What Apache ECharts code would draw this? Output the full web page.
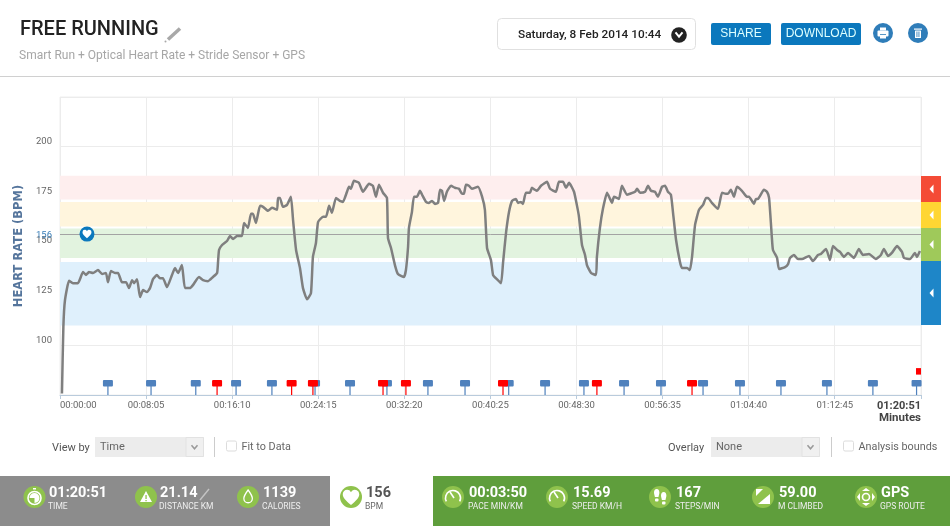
<!DOCTYPE html>
<html><head><meta charset="utf-8">
<style>html,body{margin:0;padding:0;background:#fff}#c{width:950px;height:527px}</style>
<script src="https://cdn.jsdelivr.net/npm/echarts@6/dist/echarts.min.js"></script>
</head><body><div id="c"></div>
<script>
const hrSeconds=[11,19,28,51,73,101,130,146,163,186,214,237,259,270,287,310,327,349,372,389,406,417,434,451,468,490,507,524,546,563,580,603,631,648,665,687,704,732,749,783,806,834,862,885,890,896,913,941,958,975,997,1025,1037,1059,1076,1087,1104,1127,1144,1172,1194,1223,1228,1239,1256,1279,1301,1313,1330,1352,1369,1392,1414,1425,1442,1454,1482,1499,1516,1532,1555,1577,1594,1617,1628,1639,1656,1684,1707,1741,1763,1780,1797,1820,1842,1848,1865,1887,1904,1938,1949,1961,1966,1983,1994,2011,2028,2040,2062,2079,2096,2113,2130,2141,2152,2164,2180,2203,2225,2248,2265,2276,2287,2304,2321,2355,2378,2394,2406,2428,2440,2462,2485,2496,2513,2530,2547,2569,2580,2597,2608,2625,2648,2659,2676,2687,2710,2744,2761,2794,2811,2834,2851,2868,2896,2913,2924,2941,2958,2969,2992,3020,3025,3042,3059,3082,3099,3110,3121,3149,3166,3194,3211,3240,3251,3268,3296,3313,3330,3352,3369,3392,3409,3425,3442,3454,3471,3493,3504,3533,3549,3561,3578,3600,3623,3640,3651,3673,3707,3730,3752,3764,3780,3797,3814,3842,3870,3882,3910,3921,3932,3966,3983,3995,4011,4017,4040,4051,4085,4102,4113,4135,4158,4180,4220,4242,4271,4287,4316,4338,4355,4378,4395,4417,4440,4473,4501,4524,4558,4597,4625,4642,4665,4687,4716,4744,4755,4789,4817,4828,4845];
const hrBpm=[75.8,109.3,122.7,132.5,131.3,131.3,136.9,135.4,136.9,136.4,137.9,135.9,136.4,131.8,137.4,136.4,136.4,131.8,131.8,128.8,132.8,131.3,133.3,124.3,127.8,126.8,128.8,133.3,135.4,133.8,133.8,129.3,135.4,138.9,136.4,140.4,128.8,128.8,130.3,134.4,132.8,132.3,134.4,136.4,141.4,148,150.5,152.5,155,153.5,155,155,161.6,159.1,166.2,166.2,161.6,170.2,169.7,167.7,169.2,168.2,174.2,174.2,169.7,170.7,174.8,163.1,148,138.9,128.8,123.2,126.3,144.5,151.5,162.1,164.7,164.7,170.2,166.7,174.2,172.7,172.2,177.3,179.8,178.8,182.8,181.8,177.3,181.3,180.3,174.8,180.8,176.8,174.2,154,149,140.4,135.9,134.4,137.9,149.5,159.1,167.2,174.8,174.8,177.8,175.8,172.2,171.7,172.7,171.2,171.7,178.3,177.8,172.7,177.3,180.3,179.3,178.8,176.3,176.3,180.8,180.3,178.8,179.8,174.8,168.2,149,142.9,135.4,133.3,131.3,141.4,156.6,167.2,172.7,173.7,171.7,172.2,171.2,176.8,176.8,179.3,178.3,177.8,180.3,182.3,178.8,177.3,182.3,182.3,179.3,181.8,177.3,170.2,164.7,150.5,145.5,140.4,136.4,135.4,144.5,159.1,168.7,176.8,173.7,171.7,174.8,173.7,180.3,175.8,176.3,177.3,178.8,176.8,177.3,180.3,177.8,177.3,174.8,179.8,180.3,177.3,175.8,166.7,153,141.9,138.9,138.9,137.9,144.5,160.6,168.2,170.7,174.2,174.2,171.7,168.7,176.8,176.3,176.3,178.3,174.8,179.8,177.8,174.8,174.8,171.2,173.7,173.7,178.3,177.3,174.2,154,148,144,138.4,139.4,140.9,144,145.5,143.4,143.4,145,142.4,145.5,146,148.5,142.9,150,148,147,144.5,146.5,144,148.5,145.5,146,143.4,145.5,148.5,145,146.5,150,147,144,143.4,146.5,144.5,147.5];
const zoneRed=[173.4,185.4], zoneYellow=[159.8,172.2], zoneGreen=[144,158.8], zoneBlue=[110,142];
const currentBpm=156, currentMarkerSec=152;
const blueFlags=[270,513,765,992,1194,1437,1634,1842,2073,2282,2528,2733,2952,3178,3386,3623,3831,4062,4321,4580,4826];
const redFlags=[885,1305,1425,1820,1949,2496,3025,3561];
const redEndMarker=[[4837,86.9]];
const xTickSeconds=[0,485,970,1455,1940,2425,2910,3395,3880,4365,4851];
const xTickLabels=['00:00:00','00:08:05','00:16:10','00:24:15','00:32:20','00:40:25','00:48:30','00:56:35','01:04:40','01:12:45','01:20:51'];
const statsGrey=[['01:20:51','TIME'],['21.14','DISTANCE KM'],['1139','CALORIES']];
const statBpm=['156','BPM'];
const statsGreen=[['00:03:50','PACE MIN/KM'],['15.69','SPEED KM/H'],['167','STEPS/MIN'],['59.00','M CLIMBED'],['GPS','GPS ROUTE']];

const F='Roboto, sans-serif';
const g=[];
const T=(text,x,y,font,fill,align)=>g.push({type:'text',silent:true,z:20,style:{text,x,y,font,fill,textAlign:align||'left',textVerticalAlign:'middle'}});
const R=(x,y,w,h,fill,r,stroke,zz)=>g.push({type:'rect',silent:true,z:zz||10,shape:{x,y,width:w,height:h,r:r||0},style:{fill,stroke:stroke||null,lineWidth:stroke?1:0}});
const RI=(x,y,w,h,fill,r,zz)=>R(x,y,w,h,fill,r,null,zz||14);
const C=(cx,cy,r,fill,stroke,lw)=>g.push({type:'circle',silent:true,z:11,shape:{cx,cy,r},style:{fill,stroke:stroke||null,lineWidth:lw||0}});
let pn=0;
const P=(d,x,y,s,fill,stroke,lw,zz)=>{const n='icon'+(pn++);echarts.graphic.registerShape(n,echarts.graphic.extendPath(d,{}));
 g.push({type:n,silent:true,z:zz||12,x,y,scaleX:s,scaleY:s,style:{fill:fill||null,stroke:stroke||null,lineWidth:lw||0}});};
const L=(x1,y1,x2,y2,stroke,lw)=>g.push({type:'line',silent:true,z:15,shape:{x1,y1,x2,y2},style:{stroke,lineWidth:lw||1}});
const chev=(x,y,w,c,lw)=>g.push({type:'polyline',silent:true,z:13,shape:{points:[[x-w,y-w*0.6],[x,y+w*0.6],[x+w,y-w*0.6]]},style:{stroke:c,lineWidth:lw||2,fill:null}});
const HEART='M12 22C5 16 1 12 1 7.5A5.8 5.8 0 0 1 12 5A5.8 5.8 0 0 1 23 7.5C23 12 19 16 12 22Z';

// header
T('FREE RUNNING',20,30,'500 20px '+F,'#222');
L(168,39.5,180,28.5,'#a8a8a8',3.5); C(165.5,41.5,1,'#a8a8a8');
T('Smart Run + Optical Heart Rate + Stride Sensor + GPS',19,56,'12px '+F,'#a6a6a6');
L(0,76.5,950,76.5,'#d0d0d0',1);
R(497.5,18.5,198,31,'#fff',4,'#e0e0e0');
T('Saturday, 8 Feb 2014 10:44',518,35.5,'500 11.8px '+F,'#222');
C(679,35,7.8,'#222'); chev(679,34.5,3.5,'#fff',2);
R(711,23,60,22,'#0b78bd',2); T('SHARE',741,33.5,'12px "Liberation Sans"','#dff','center');
R(781,23,80,22,'#0b78bd',2); T('DOWNLOAD',821,33.5,'12px "Liberation Sans"','#dff','center');
C(883,33,10,'#2f7db9'); RI(877.5,30.5,11,6,'#fff',1); RI(880,27.5,6,3,'#fff'); RI(880,35,6,3.5,'#fff'); L(880,34.5,886,34.5,'#2f7db9',.8);
C(918,33,10,'#2f7db9'); RI(914,28.5,8,1.2,'#fff'); RI(915,30.5,6,7.5,'#fff',0.5); RI(916.5,31.5,.9,5.5,'#2f7db9',0,15); RI(918.5,31.5,.9,5.5,'#2f7db9',0,15);
// side tabs
[[176,26,'#f44b36'],[202,26,'#ffd633'],[228,33,'#9fc95a'],[261,64,'#1e86c8']].forEach(([y,h,c])=>{R(921,y,20,h,c);
 g.push({type:'polygon',silent:true,z:13,shape:{points:[[929.5,y+h/2],[933.5,y+h/2-4.5],[933.5,y+h/2+4.5]]},style:{fill:'#fff'}});});
// Minutes
T('Minutes',921,418.5,'bold 11.5px '+F,'#444','right');
// controls
const ctl=(label,lx,sx,value,dx,cbx,cbl)=>{
 T(label,lx,448.5,'11px '+F,'#555');
 R(sx,437,109,20,'#ececec',0);
 R(sx+91,437.5,17.5,19,'#f0f0f0',0,'#e2e2e2');
 chev(sx+99.5,447,3,'#999',1.5);
 T(value,sx+5,447.5,'11px '+F,'#666');
 L(dx,437,dx,457,'#ccc',1);
 R(cbx,441,10,10,'#fff',1.5,'#dcdcdc');
 T(cbl,cbx+15,447.5,'10.8px '+F,'#666');
};
ctl('View by',52,95,'Time',214.5,226.5,'Fit to Data');
ctl('Overlay',668,711,'None',831.5,843.5,'Analysis bounds');
// bottom bar
R(0,476,330,50,'#8c8c8c'); R(433,476,517,50,'#5f9e3c');
const ic='#8fc24c';
const stat=(cx,vx,val,lab,vc,lc)=>{C(cx,497,11,ic);
 T(val,vx,493.5,'bold 14.5px '+F,vc); T(lab,vx-1,507,'8.5px '+F,lc);};
[[34.5,49],[146,160],[248,263]].forEach((p,i)=>stat(p[0],p[1],statsGrey[i][0],statsGrey[i][1],'#fff','#eee'));
stat(351,366,statBpm[0],statBpm[1],'#555','#666');
P(HEART,342,488.5,.75,'#fff');
[[453,469],[557,573],[660,676],[763,779],[866,881]].forEach((p,i)=>stat(p[0],p[1],statsGreen[i][0],statsGreen[i][1],'#fff','#eee'));
// icons
C(34.5,498,6.5,'none','#fff',1.6); P('M0 0L0 5A5 5 0 1 0 -5 0Z',34.5,498,1,'#fff');
RI(33,488,3,1.5,'#fff');
P('M6 0L12 11H0Z',140,491,1,'#fff'); RI(145.4,495,1.3,4,'#8fc24c'); RI(145.4,500,1.3,1.3,'#8fc24c');
L(200,500,209,489,'#c4c4c4',1.4);
P('M6 0C9 4 11 7 11 10A5 5 0 0 1 1 10C1 7 3 4 6 0Z',243,490,.85,'none','#fff',1.5);
[453,557].forEach(x=>{g.push({type:'arc',silent:true,z:12,shape:{cx:x,cy:498,r:7.5,startAngle:Math.PI*0.85,endAngle:Math.PI*0.15},style:{stroke:'#fff',lineWidth:1.6,fill:null}});L(x-3,492,x+1,498,'#fff',1.6);});
P('M3 0C5 0 6 2 6 4C6 6 5 8 5 9H1C1 8 0 6 0 4C0 2 1 0 3 0Z',654,489,.9,'#fff'); RI(655,498.5,3.5,3,'#fff',1);
P('M3 0C5 0 6 2 6 4C6 6 5 8 5 9H1C1 8 0 6 0 4C0 2 1 0 3 0Z',661,492,.9,'#fff'); RI(662,501.5,3.5,3,'#fff',1);
P('M12 0L12 10L0 10Z',758,494,1,'#fff'); P('M0 7L7 0H0Z',756,489,1,'#fff');
C(866,497,3.5,'none','#fff',1.6);
P('M4 0L8 3H0Z',862,488,1,'#fff');P('M4 3L8 0H0Z',862,503,1,'#fff');P('M3 0L0 4L3 8Z',857,493,1,'#fff');P('M0 0L3 4L0 8Z',872,493,1,'#fff');

const band=(r,c)=>[{yAxis:r[0],itemStyle:{color:c,opacity:1}},{yAxis:r[1]}];
const flag='path://M1 0H9A1 1 0 0 1 10 1V5.5A1 1 0 0 1 9 6.5H5.6V15H4.4V6.5H1A1 1 0 0 1 0 5.5V1A1 1 0 0 1 1 0Z';
const chart=echarts.init(document.getElementById('c'));
chart.setOption({
 animation:false,
 grid:{left:60,right:29,top:97,bottom:132,show:true,borderColor:'#efefef',borderWidth:1,backgroundColor:'transparent'},
 xAxis:{type:'value',min:0,max:4851,
  axisLine:{lineStyle:{color:'#b9cbdc',width:1},onZero:false},
  axisTick:{show:true,length:4,inside:false,customValues:xTickSeconds,lineStyle:{color:'#b9cbdc'}},
  splitLine:{show:true,lineStyle:{color:'#ececec'}},
  axisLabel:{customValues:xTickSeconds,alignMinLabel:'left',alignMaxLabel:'right',margin:6,
   fontFamily:F,fontSize:9.5,color:'#666',showMinLabel:true,showMaxLabel:true,hideOverlap:false,
   formatter:v=>{const i=xTickSeconds.indexOf(v);return i===xTickSeconds.length-1?'{b|'+xTickLabels[i]+'}':xTickLabels[i];},
   rich:{b:{fontFamily:F,fontSize:11,fontWeight:'bold',color:'#444'}}}},
 yAxis:{type:'value',min:75,max:225,interval:25,name:'HEART RATE (BPM)',nameLocation:'middle',nameGap:28,
  nameTextStyle:{fontFamily:'"DejaVu Sans"',fontWeight:'bold',fontSize:11.5,color:'#55759c'},
  axisLine:{show:false},axisTick:{show:false},
  splitLine:{show:true,lineStyle:{color:'#ececec'}},
  axisLabel:{margin:8,fontFamily:F,fontSize:9.5,color:'#666',verticalAlign:'bottom',
   formatter:v=>(v===75||v===225)?'':String(v)}},
 series:[
  {type:'line',name:'Heart rate',data:hrSeconds.map((t,i)=>[t,hrBpm[i]]),showSymbol:false,symbol:'none',z:5,
   lineStyle:{color:'#7f7f7f',width:2.5},smooth:0.15,silent:true,
   markArea:{silent:true,z:1,data:[band(zoneRed,'#feeeee'),band(zoneYellow,'#fff5dd'),band(zoneGreen,'#e2f3df'),band(zoneBlue,'#dff0fc')]},
   markLine:{silent:true,symbol:'none',z:3,data:[{yAxis:currentBpm}],lineStyle:{color:'#a3a3a3',width:1,type:'solid'},
    label:{position:'start',distance:8,offset:[0,1.5],formatter:String(currentBpm),color:'#3b7fb8',fontFamily:F,fontSize:9.5}}},
  {type:'scatter',name:'Laps',data:blueFlags.map(t=>[t,75]),symbol:flag,symbolSize:[10,15],symbolOffset:[0,-7.5],clip:true,z:6,silent:true,itemStyle:{color:'#4f81bd',opacity:1}},
  {type:'scatter',name:'Markers',data:redFlags.map(t=>[t,75]),symbol:flag,symbolSize:[10,15],symbolOffset:[0,-7.5],clip:true,z:7,silent:true,itemStyle:{color:'#f00',opacity:1}},
  {type:'scatter',name:'End marker',data:redEndMarker,symbol:'rect',symbolSize:[5,6.5],clip:true,z:7,silent:true,itemStyle:{color:'#f00',opacity:1}},
  {type:'scatter',name:'Current ring',data:[[currentMarkerSec,currentBpm]],symbol:'circle',symbolSize:15,z:8,silent:true,itemStyle:{color:'#0b78bd',opacity:1}},
  {type:'scatter',name:'Current heart',data:[[currentMarkerSec,currentBpm]],symbol:'path://'+HEART,symbolSize:[9,8.5],z:9,silent:true,itemStyle:{color:'#fff',opacity:1}}
 ],
 graphic:g
});
</script></body></html>
